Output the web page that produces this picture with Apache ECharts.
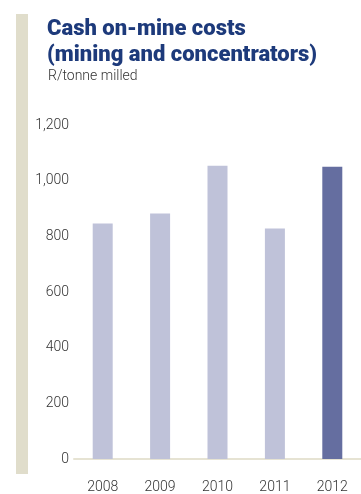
<!DOCTYPE html>
<html>
<head>
<meta charset="utf-8">
<script src="https://cdn.jsdelivr.net/npm/echarts@6/dist/echarts.min.js"></script>
<style>
  html, body { margin: 0; padding: 0; background: #ffffff; }
  #chart { width: 361px; height: 494px; }
</style>
</head>
<body>
<div id="chart"></div>
<script>
// Cash on-mine costs, R/tonne milled
const years = ['2008', '2009', '2010', '2011', '2012'];
const costs = [846, 882, 1054, 828, 1050];
const yTicks = [0, 200, 400, 600, 800, 1000, 1200];

const pastColor = '#bfc2d9';
const currentColor = '#656ea0';

const chart = echarts.init(document.getElementById('chart'));

chart.setOption({
  animation: false,
  title: [
    {
      text: 'Cash on-mine costs\n(mining and concentrators)',
      left: 42,
      top: 11,
      textStyle: {
        fontFamily: 'Roboto',
        fontWeight: 900,
        fontSize: 22,
        lineHeight: 26,
        color: '#1d3a7b'
      }
    },
    {
      text: 'R/tonne milled',
      left: 43,
      top: 64,
      textStyle: {
        fontFamily: 'Roboto',
        fontWeight: 300,
        fontSize: 14,
        color: '#333333'
      }
    }
  ],
  graphic: [
    {
      type: 'rect',
      shape: { x: 16, y: 14, width: 12, height: 460 },
      style: { fill: '#e0ddcb' }
    }
  ],
  grid: {
    left: 74,
    top: 125,
    width: 296,
    height: 335
  },
  xAxis: {
    type: 'category',
    data: years,
    offset: 14,
    axisLine: { lineStyle: { color: '#e6e3d3', width: 2 } },
    axisTick: { show: false },
    axisLabel: {
      margin: 7,
      fontFamily: 'Roboto',
      fontWeight: 300,
      fontSize: 14,
      color: '#333333'
    }
  },
  yAxis: {
    type: 'value',
    min: yTicks[0],
    max: yTicks[yTicks.length - 1],
    interval: yTicks[1] - yTicks[0],
    axisLine: { show: false },
    axisTick: { show: false },
    splitLine: { show: false },
    axisLabel: {
      margin: 5,
      fontFamily: 'Roboto',
      fontWeight: 300,
      fontSize: 14,
      color: '#333333',
      formatter: v => v.toLocaleString('en-US')
    }
  },
  series: [
    {
      type: 'bar',
      barWidth: 20,
      data: costs.map((v, i) => ({
        value: v,
        itemStyle: { color: i === costs.length - 1 ? currentColor : pastColor }
      }))
    }
  ]
});
</script>
</body>
</html>
